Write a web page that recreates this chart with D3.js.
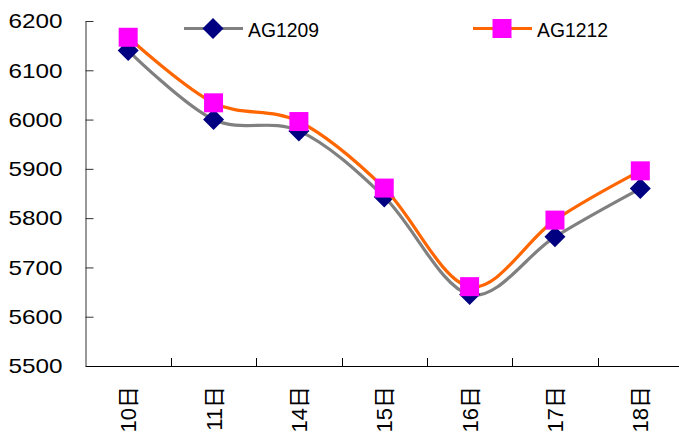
<!DOCTYPE html>
<html>
<head>
<meta charset="utf-8">
<script src="https://cdn.jsdelivr.net/npm/d3@7"></script>
<style>
  html, body { margin: 0; padding: 0; background: #fff; }
  svg { display: block; }
</style>
</head>
<body>
<svg id="chart" width="679" height="435"></svg>
<script>
// Silver futures closing prices by trading day
const categories = ["10日", "11日", "14日", "15日", "16日", "17日", "18日"];
const ag1209 = [6140, 6000, 5977, 5843, 5645, 5762, 5860];
const ag1212 = [6167, 6034, 5996, 5861, 5661, 5796, 5896];
const yTicks = [5500, 5600, 5700, 5800, 5900, 6000, 6100, 6200];

const svg = d3.select("#chart");
const latin = "'Liberation Sans', Arial, sans-serif";
const cjk = "'Liberation Sans', 'Noto Sans CJK SC', sans-serif";

const plot = { left: 85.5, right: 683, top: 21, bottom: 366 };

const x = d3.scaleBand().domain(categories).range([plot.left, plot.right]).paddingInner(0).paddingOuter(0);
const y = d3.scaleLinear().domain([5500, 6200]).range([plot.bottom, plot.top]);
const cx = d => x(d) + x.bandwidth() / 2;

// Y axis: ticks pointing into the plot, labels on the left
const yAxis = svg.append("g")
  .attr("transform", `translate(${plot.left},0)`)
  .call(d3.axisLeft(y).tickValues(yTicks).tickSizeInner(-8).tickSizeOuter(0).tickPadding(23).tickFormat(d3.format("d")));
yAxis.select(".domain").attr("stroke", "#555").attr("stroke-width", 1.2);
yAxis.selectAll(".tick line").attr("stroke", "#333");
yAxis.selectAll(".tick text")
  .attr("fill", "#000")
  .style("font-family", latin)
  .style("font-size", "21px")
  .attr("textLength", 54)
  .attr("lengthAdjust", "spacingAndGlyphs");

// X axis: ticks at category boundaries, pointing up
const xAxis = svg.append("g")
  .attr("transform", `translate(0,${plot.bottom})`)
  .call(d3.axisBottom(x).tickSizeInner(0).tickSizeOuter(0).tickFormat(""));
xAxis.select(".domain").attr("stroke", "#000").attr("stroke-width", 1.2);
xAxis.selectAll(".tick").remove();
svg.append("g").selectAll("line")
  .data(categories.slice(1))
  .join("line")
  .attr("x1", d => Math.round(x(d)) + 0.5)
  .attr("x2", d => Math.round(x(d)) + 0.5)
  .attr("y1", plot.bottom)
  .attr("y2", plot.bottom - 8)
  .attr("stroke", "#000");

// Rotated category labels
svg.append("g").selectAll("text")
  .data(categories)
  .join("text")
  .attr("transform", d => `translate(${cx(d) + 8},${plot.bottom + 20}) rotate(-90)`)
  .attr("text-anchor", "end")
  .style("font-family", cjk)
  .style("font-size", "22px")
  .attr("fill", "#000")
  .text(d => d);

// Smoothed series lines
const line = d3.line()
  .x((d, i) => cx(categories[i]))
  .y(d => y(d))
  .curve(d3.curveCardinal.tension(0));

const series = [
  { name: "AG1209", values: ag1209, stroke: "#808080", marker: "diamond", fill: "#000080" },
  { name: "AG1212", values: ag1212, stroke: "#FF6600", marker: "square", fill: "#FF00FF" }
];

const diamond = "M0,-10.5L10.5,0L0,10.5L-10.5,0Z";
const square = "M-9.5,-9.5H9.5V9.5H-9.5Z";

series.forEach(s => {
  svg.append("path")
    .datum(s.values)
    .attr("fill", "none")
    .attr("stroke", s.stroke)
    .attr("stroke-width", 3.2)
    .attr("d", line);
  svg.append("g").selectAll("path")
    .data(s.values)
    .join("path")
    .attr("transform", (d, i) => `translate(${cx(categories[i])},${y(d)})`)
    .attr("d", s.marker === "diamond" ? diamond : square)
    .attr("fill", s.fill);
});

// Legend
const legend = [
  { s: series[0], x0: 184, x1: 243, mx: 213, tx: 248 },
  { s: series[1], x0: 473, x1: 532, mx: 502, tx: 537 }
];
const lg = svg.append("g");
legend.forEach(l => {
  lg.append("line")
    .attr("x1", l.x0).attr("x2", l.x1)
    .attr("y1", 28.5).attr("y2", 28.5)
    .attr("stroke", l.s.stroke).attr("stroke-width", 3.2);
  lg.append("path")
    .attr("transform", `translate(${l.mx},28.5)`)
    .attr("d", l.s.marker === "diamond" ? diamond : square)
    .attr("fill", l.s.fill);
  lg.append("text")
    .attr("x", l.tx).attr("y", 37)
    .style("font-family", latin)
    .style("font-size", "21px")
    .attr("textLength", 71)
    .attr("lengthAdjust", "spacingAndGlyphs")
    .attr("fill", "#000")
    .text(l.s.name);
});
</script>
</body>
</html>
